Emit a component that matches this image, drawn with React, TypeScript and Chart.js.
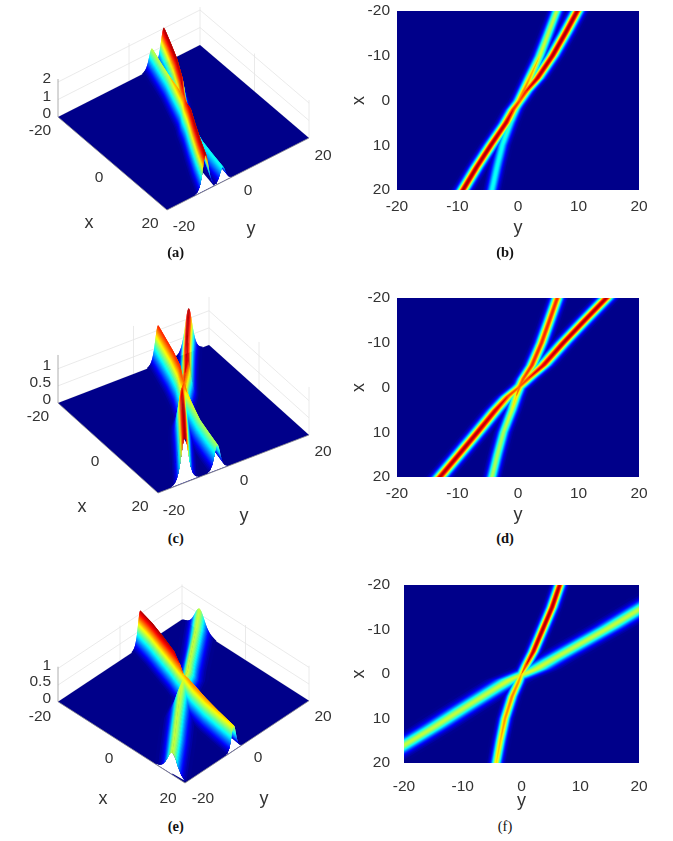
import React, { useEffect, useRef } from "react";
import { Chart, registerables } from "chart.js";
Chart.register(...registerables);

// ---- values: ridge centre y at x, and ridge height ----
const nodeX = [-20, -15, -10, -5, -2, 0, 2, 5, 10, 15, 20];

const abMainY = [9.8, 7.8, 5.7, 3.2, 1.3, 0.3, -0.8, -2, -4.5, -6.9, -9.1];
const abMainPeak = [2.05, 2.05, 2.05, 2.0, 1.8, 1.7, 1.8, 2.0, 2.05, 2.05, 2.05];
const abSideY = [6.4, 5.0, 3.6, 1.9, 0.9, 0.2, -0.5, -1.3, -2.6, -3.5, -4.3];
const abSidePeak = [1.2, 1.2, 1.25, 1.5, 1.6, 1.6, 1.3, 0.95, 0.85, 0.85, 0.85];

const cdMainY = [14.6, 11, 7.5, 4.2, 1.7, 0.1, -1.7, -3.7, -6.7, -9.8, -12.9];
const cdMainPeak = [1.3, 1.3, 1.3, 1.25, 1.12, 1.05, 1.12, 1.25, 1.3, 1.3, 1.3];
const cdSideY = [6.5, 5.2, 3.9, 2.3, 0.9, 0.2, -0.3, -1, -2.4, -3.4, -4.3];
const cdSidePeak = [1.15, 1.15, 1.15, 1.15, 1.1, 1.05, 0.9, 0.8, 0.75, 0.75, 0.75];

const efSteepY = [6.5, 5.2, 3.6, 2, 0.8, 0, -0.6, -1.6, -2.8, -3.6, -4.3];
const efSteepPeak = [1.1, 1.12, 1.12, 1.08, 0.95, 0.8, 0.85, 0.88, 0.85, 0.8, 0.76];
const efShallowX = [-20, -14.5, -10.5, -6.8, -3.1, -1.1, 0.1, 1.3, 3.7, 7.8, 12, 16, 20];
const efShallowY = [27, 20, 15, 10, 5, 2.5, 0.2, -2, -5, -10, -15, -20, -25];
const efShallowPeak = [0.66, 0.66, 0.66, 0.66, 0.66, 0.68, 0.7, 0.68, 0.66, 0.66, 0.66, 0.66, 0.66];

const heatTicks = [-20, -10, 0, 10, 20];
const surfaceTicks = [-20, 0, 20];
const zTicksA = [0, 1, 2];
const zTicksC = [0, 0.5, 1];
const zTicksE = [0, 0.5, 1];
const captions = ["(a)", "(b)", "(c)", "(d)", "(e)", "(f)"];

// ---- ridge sets ----
type Ridge = { x: number[]; y: number[]; peak: number[]; w: number; exit: "x" | "y" };
const ridgesAB: Ridge[] = [
  { x: nodeX, y: abSideY, peak: abSidePeak, w: 0.8, exit: "x" },
  { x: nodeX, y: abMainY, peak: abMainPeak, w: 0.85, exit: "x" },
];
const ridgesCD: Ridge[] = [
  { x: nodeX, y: cdSideY, peak: cdSidePeak, w: 0.8, exit: "x" },
  { x: nodeX, y: cdMainY, peak: cdMainPeak, w: 1.0, exit: "x" },
];
const ridgesEF: Ridge[] = [
  { x: efShallowX, y: efShallowY, peak: efShallowPeak, w: 2.0, exit: "y" },
  { x: nodeX, y: efSteepY, peak: efSteepPeak, w: 0.75, exit: "x" },
];
const SURF_WIDEN = 1.35;

// ---- colour + profile helpers ----
const clamp = (v: number) => Math.max(0, Math.min(1, v));
const jet = (t: number) => {
  const r = clamp(1.5 - Math.abs(4 * t - 3));
  const g = clamp(1.5 - Math.abs(4 * t - 2));
  let b = clamp(1.5 - Math.abs(4 * t - 1));
  if (t < 0.125) b = Math.max(b, 0.54);
  return `rgb(${Math.round(r * 255)},${Math.round(g * 255)},${Math.round(b * 255)})`;
};
const FLOOR = "rgb(0,0,138)";
const LEVELS = Array.from({ length: 44 }, (_, i) => 0.015 + (i / 43) * 0.985);
const halfWidth = (peak: number, z: number, w: number) =>
  z >= peak ? 0 : w * Math.acosh(Math.sqrt(peak / z));

const polyDs = (data: any[], color: string) => ({
  data,
  showLine: true,
  fill: "shape",
  backgroundColor: color,
  borderWidth: 0,
  pointRadius: 0,
  tension: 0,
});
const lineDs = (data: any[], color: string, width: number) => ({
  data,
  showLine: true,
  fill: false,
  borderColor: color,
  borderWidth: width,
  pointRadius: 0,
  tension: 0,
});

// ---- heat map panels ----
function heatDatasets(ridges: Ridge[], zMax: number) {
  const out: any[] = [
    polyDs(
      [
        { x: -20, y: -20 },
        { x: 20, y: -20 },
        { x: 20, y: 20 },
        { x: -20, y: 20 },
      ],
      FLOOR
    ),
  ];
  for (const t of LEVELS) {
    const z = t * zMax;
    for (const r of ridges) {
      if (!r.peak.some((p) => p > z)) continue;
      const fwd = r.x.map((x, i) => ({ y: x, x: r.y[i] + halfWidth(r.peak[i], z, r.w) }));
      const back = r.x.map((x, i) => ({ y: x, x: r.y[i] - halfWidth(r.peak[i], z, r.w) })).reverse();
      out.push(polyDs([...fwd, ...back], jet(t)));
    }
  }
  return out.reverse(); // Chart.js paints the first dataset last
}

type Rect = { left: number; right: number; top: number; bottom: number; xPad: number; yPad: number };
function makeHeat(canvas: HTMLCanvasElement, rect: Rect, ridges: Ridge[], zMax: number, canvasTop: number) {
  const W = 333,
    H = rect.bottom - canvasTop + 52;
  canvas.width = W;
  canvas.height = H;
  canvas.style.cssText = `position:absolute;left:340px;top:${canvasTop}px;width:${W}px;height:${H}px`;
  const tickFont = { family: "'Liberation Sans', Arial, sans-serif", size: 15.5 };
  return new Chart(canvas, {
    type: "scatter",
    data: { datasets: heatDatasets(ridges, zMax) as any },
    options: {
      animation: false,
      responsive: false,
      events: [],
      layout: {
        padding: { left: 0, right: 673 - rect.right, top: rect.top - canvasTop, bottom: 0 },
      },
      plugins: { legend: { display: false }, tooltip: { enabled: false } },
      scales: {
        x: {
          type: "linear",
          min: -20,
          max: 20,
          afterBuildTicks: (s: any) => (s.ticks = heatTicks.map((v) => ({ value: v }))),
          afterFit: (s: any) => {
            s.height = 52;
            s.paddingLeft = s.paddingRight = 0;
          },
          grid: { display: false, drawTicks: false, tickLength: 0 },
          border: { display: false },
          ticks: { color: "#333", font: tickFont, padding: rect.xPad, maxRotation: 0 },
          title: { display: true, text: "y", color: "#333", font: { ...tickFont, size: 18 }, padding: { top: 0, bottom: 3 } },
        },
        y: {
          type: "linear",
          reverse: true,
          min: -20,
          max: 20,
          afterBuildTicks: (s: any) => (s.ticks = heatTicks.map((v) => ({ value: v }))),
          afterFit: (s: any) => {
            s.width = rect.left - 340;
            s.paddingTop = s.paddingBottom = 0;
          },
          grid: { display: false, drawTicks: false, tickLength: 0 },
          border: { display: false },
          ticks: { color: "#333", font: tickFont, padding: rect.yPad },
          title: { display: true, text: "x", color: "#333", font: { ...tickFont, size: 18 }, padding: { top: 8, bottom: 0 } },
        },
      },
    } as any,
  });
}

// ---- 3-D surface panels ----
type Pt = { x: number; y: number };
type P3 = { x: number; y: number; z: number };
type Surf = {
  L: Pt;
  B: Pt;
  R: Pt;
  zPx: number;
  zMax: number;
  zTop: number;
  zTicks: number[];
  top: number;
  height: number;
  off: { xLo: Pt; xMid: Pt; xHi: Pt; yLo: Pt; yMid: Pt; yHi: Pt; xT: Pt; yT: Pt };
};

function clipPoly(poly: P3[]) {
  const planes: [keyof P3, number][] = [
    ["x", -20],
    ["y", -20],
    ["x", 20],
    ["y", 20],
  ];
  let cur = poly;
  for (const [k, lim] of planes) {
    const inside = (p: P3) => (lim < 0 ? p[k] >= lim : p[k] <= lim);
    const next: P3[] = [];
    for (let i = 0; i < cur.length; i++) {
      const a = cur[i],
        b = cur[(i + 1) % cur.length];
      if (inside(a)) next.push(a);
      if (inside(a) !== inside(b)) {
        const f = (lim - a[k]) / (b[k] - a[k]);
        next.push({ x: a.x + f * (b.x - a.x), y: a.y + f * (b.y - a.y), z: a.z + f * (b.z - a.z) });
      }
    }
    cur = next;
    if (!cur.length) break;
  }
  return cur;
}

function surfDatasets(baseRidges: Ridge[], s: Surf) {
  const ridges = baseRidges.map((r) => ({ ...r, w: r.w * SURF_WIDEN }));
  const proj = (p: P3): Pt => ({
    x: s.L.x + ((p.x + 20) / 40) * (s.B.x - s.L.x) + ((p.y + 20) / 40) * (s.R.x - s.B.x),
    y: s.L.y + ((p.x + 20) / 40) * (s.B.y - s.L.y) + ((p.y + 20) / 40) * (s.R.y - s.B.y) - p.z * s.zPx,
  });
  const out: any[] = [];
  const GRID = "#e4e4e4";
  // walls: x = -20 and y = 20
  for (const z of s.zTicks) {
    out.push(lineDs([proj({ x: -20, y: -20, z }), proj({ x: -20, y: 20, z }), proj({ x: 20, y: 20, z })], GRID, 0.8));
  }
  for (const [x, y] of [
    [-20, 0],
    [-20, 20],
    [0, 20],
    [20, 20],
  ]) {
    out.push(lineDs([proj({ x, y, z: 0 }), proj({ x, y, z: s.zTop })], GRID, 0.8));
  }
  // z axis
  out.push(lineDs([proj({ x: -20, y: -20, z: 0 }), proj({ x: -20, y: -20, z: s.zTop })], "#999", 0.8));
  // floor
  out.push(
    polyDs(
      [
        proj({ x: -20, y: -20, z: 0 }),
        proj({ x: 20, y: -20, z: 0 }),
        proj({ x: 20, y: 20, z: 0 }),
        proj({ x: -20, y: 20, z: 0 }),
      ],
      FLOOR
    )
  );
  // open ends of the surface: white, the page shows through under the cut edge
  for (const r of ridges) {
    const n = r.x.length - 1;
    const zs = LEVELS.map((t) => t * s.zMax);
    let wall: P3[] = [];
    if (r.exit === "x") {
      const low = zs.filter((z) => z < r.peak[n]).map((z) => ({ x: 20, y: r.y[n] - halfWidth(r.peak[n], z, r.w), z }));
      const high = zs.filter((z) => z < r.peak[n]).map((z) => ({ x: 20, y: r.y[n] + halfWidth(r.peak[n], z, r.w), z }));
      wall = [...low, { x: 20, y: r.y[n], z: r.peak[n] }, ...high.reverse()];
    } else {
      const c = r.y.indexOf(-20);
      const crossing = (z: number, side: number) => {
        for (let i = 0; i < n; i++) {
          const a = r.y[i] + side * halfWidth(r.peak[i], z, r.w);
          const b = r.y[i + 1] + side * halfWidth(r.peak[i + 1], z, r.w);
          if ((a + 20) * (b + 20) <= 0) return r.x[i] + ((-20 - a) / (b - a)) * (r.x[i + 1] - r.x[i]);
        }
        return r.x[c];
      };
      const fl = zs.filter((z) => z < r.peak[c]);
      wall = [
        ...fl.map((z) => ({ x: crossing(z, 1), y: -20, z })),
        { x: r.x[c], y: -20, z: r.peak[c] },
        ...fl.map((z) => ({ x: crossing(z, -1), y: -20, z })).reverse(),
      ];
    }
    out.push(polyDs(clipPoly(wall).map(proj), "#ffffff"));
  }
  // front edges
  out.push(
    lineDs(
      [proj({ x: -20, y: -20, z: 0 }), proj({ x: 20, y: -20, z: 0 }), proj({ x: 20, y: 20, z: 0 })],
      "#8a8a8a",
      0.8
    )
  );
  // rising flanks, lowest level first: each band runs from its level to two levels up
  LEVELS.forEach((t, k) => {
    const z = t * s.zMax;
    const zUp = LEVELS[Math.min(k + 2, LEVELS.length - 1)] * s.zMax;
    for (const r of ridges) {
      if (!r.peak.some((p) => p > z)) continue;
      for (const side of [1, -1]) {
        const lo = r.x.map((x, i) => ({
          x,
          y: r.y[i] + side * halfWidth(r.peak[i], z, r.w),
          z: Math.min(z, r.peak[i]),
        }));
        const hi = r.x
          .map((x, i) => ({
            x,
            y: r.y[i] + side * halfWidth(r.peak[i], zUp, r.w),
            z: Math.min(zUp, r.peak[i]),
          }))
          .reverse();
        const poly = clipPoly([...lo, ...hi]);
        if (poly.length) out.push(polyDs(poly.map(proj), jet(t)));
      }
    }
  });
  return { datasets: out.reverse(), proj };
}

function makeSurf(canvas: HTMLCanvasElement, ridges: Ridge[], s: Surf) {
  const W = 340;
  canvas.width = W;
  canvas.height = s.height;
  canvas.style.cssText = `position:absolute;left:0;top:${s.top}px;width:${W}px;height:${s.height}px`;
  const { datasets, proj } = surfDatasets(ridges, s);
  const labels: { text: string; p: Pt; align: CanvasTextAlign }[] = [];
  const shift = (p: Pt, o: Pt) => ({ x: p.x + o.x, y: p.y + o.y });
  const xOffs = [s.off.xLo, s.off.xMid, s.off.xHi];
  const yOffs = [s.off.yLo, s.off.yMid, s.off.yHi];
  surfaceTicks.forEach((v, i) => {
    labels.push({ text: String(v), p: shift(proj({ x: v, y: -20, z: 0 }), xOffs[i]), align: "center" });
    labels.push({ text: String(v), p: shift(proj({ x: 20, y: v, z: 0 }), yOffs[i]), align: "center" });
  });
  labels.push({ text: "x", p: shift(proj({ x: 0, y: -20, z: 0 }), s.off.xT), align: "center" });
  labels.push({ text: "y", p: shift(proj({ x: 20, y: 0, z: 0 }), s.off.yT), align: "center" });
  s.zTicks.forEach((v) =>
    labels.push({
      text: String(v),
      p: shift(proj({ x: -20, y: -20, z: v }), { x: -7, y: -3 }),
      align: "right",
    })
  );
  const textPlugin = {
    id: "surfText",
    afterDraw(chart: any) {
      const { ctx, scales } = chart;
      ctx.save();
      ctx.fillStyle = "#333";
      ctx.textBaseline = "middle";
      for (const l of labels) {
        const big = l.text === "x" || l.text === "y";
        ctx.font = `${big ? 18 : 15.5}px 'Liberation Sans', Arial, sans-serif`;
        ctx.textAlign = l.align;
        ctx.fillText(l.text, scales.x.getPixelForValue(l.p.x), scales.y.getPixelForValue(l.p.y));
      }
      ctx.restore();
    },
  };
  return new Chart(canvas, {
    type: "scatter",
    data: { datasets: datasets as any },
    plugins: [textPlugin],
    options: {
      animation: false,
      responsive: false,
      events: [],
      layout: { padding: 0 },
      plugins: { legend: { display: false }, tooltip: { enabled: false } },
      scales: {
        x: { type: "linear", display: false, min: 0, max: W },
        y: { type: "linear", display: false, reverse: true, min: s.top, max: s.top + s.height },
      },
    } as any,
  });
}

const surfA: Surf = {
  L: { x: 58, y: 117 },
  B: { x: 167, y: 210 },
  R: { x: 309, y: 138 },
  zPx: 17.5,
  zMax: 2.1,
  zTop: 2.17,
  zTicks: zTicksA,
  top: 0,
  height: 245,
  off: {
    xLo: { x: -18, y: 14 },
    xMid: { x: -13.5, y: 14.5 },
    xHi: { x: -17, y: 14 },
    yLo: { x: 17, y: 17 },
    yMid: { x: 10, y: 17 },
    yHi: { x: 14, y: 18 },
    xT: { x: -23.5, y: 59.5 },
    yT: { x: 13, y: 55 },
  },
};
const surfC: Surf = {
  L: { x: 58, y: 403 },
  B: { x: 158, y: 493 },
  R: { x: 309, y: 435 },
  zPx: 34.3,
  zMax: 1.35,
  zTop: 1.4,
  zTicks: zTicksC,
  top: 285,
  height: 245,
  off: {
    xLo: { x: -20, y: 14 },
    xMid: { x: -13, y: 14 },
    xHi: { x: -18, y: 14 },
    yLo: { x: 16, y: 18 },
    yMid: { x: 10.5, y: 17 },
    yHi: { x: 14, y: 17 },
    xT: { x: -26, y: 59 },
    yT: { x: 10.5, y: 52 },
  },
};
const surfE: Surf = {
  L: { x: 58, y: 701.7 },
  B: { x: 185, y: 783 },
  R: { x: 309, y: 700.7 },
  zPx: 33.3,
  zMax: 1.15,
  zTop: 1.05,
  zTicks: zTicksE,
  top: 570,
  height: 245,
  off: {
    xLo: { x: -18, y: 15 },
    xMid: { x: -12.5, y: 16 },
    xHi: { x: -17, y: 16 },
    yLo: { x: 18, y: 16 },
    yMid: { x: 11, y: 16 },
    yHi: { x: 14, y: 16 },
    xT: { x: -18.5, y: 57 },
    yT: { x: 17, y: 57 },
  },
};

const captionPos = [
  { x: 175.7, y: 252, bold: true },
  { x: 505, y: 252, bold: true },
  { x: 175.7, y: 538, bold: true },
  { x: 505, y: 538, bold: true },
  { x: 175.7, y: 826, bold: true },
  { x: 505, y: 826, bold: false },
];

export default function App() {
  const refs = [
    useRef<HTMLCanvasElement>(null),
    useRef<HTMLCanvasElement>(null),
    useRef<HTMLCanvasElement>(null),
    useRef<HTMLCanvasElement>(null),
    useRef<HTMLCanvasElement>(null),
    useRef<HTMLCanvasElement>(null),
  ];
  useEffect(() => {
    const charts = [
      makeSurf(refs[0].current!, ridgesAB, surfA),
      makeHeat(refs[1].current!, { left: 397, right: 639, top: 11, bottom: 190, xPad: 7, yPad: 7 }, ridgesAB, 2.1, 0),
      makeSurf(refs[2].current!, ridgesCD, surfC),
      makeHeat(refs[3].current!, { left: 397, right: 639, top: 298, bottom: 477, xPad: 7, yPad: 7 }, ridgesCD, 1.35, 285),
      makeSurf(refs[4].current!, ridgesEF, surfE),
      makeHeat(refs[5].current!, { left: 404, right: 639, top: 585, bottom: 763, xPad: 14, yPad: 14 }, ridgesEF, 1.15, 572),
    ];
    return () => charts.forEach((c) => c.destroy());
  }, []);
  return (
    <div style={{ position: "absolute", left: 0, top: 0, width: 673, height: 841, overflow: "hidden", background: "#fff" }}>
      {refs.map((r, i) => (
        <canvas key={i} ref={r} />
      ))}
      {captions.map((c, i) => (
        <div
          key={c}
          style={{
            position: "absolute",
            left: captionPos[i].x - 20,
            top: captionPos[i].y - 8,
            width: 40,
            textAlign: "center",
            font: `${captionPos[i].bold ? "bold " : ""}14.5px/16px 'Liberation Serif', serif`,
            color: "#111",
          }}
        >
          {c}
        </div>
      ))}
    </div>
  );
}
